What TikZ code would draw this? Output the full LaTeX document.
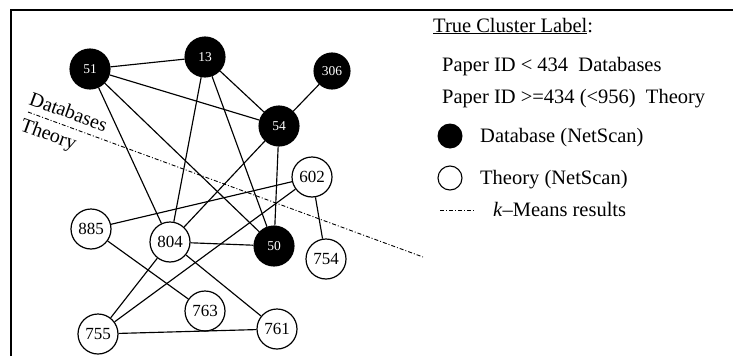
\documentclass[tikz,border=0pt]{standalone}
\usepackage{fontspec}
\setmainfont{Liberation Serif}
\begin{document}
\begin{tikzpicture}[x=1pt,y=-1pt,
  dbnode/.style={circle, fill=black, draw=black, line width=1.1pt, minimum size=40pt, inner sep=0pt,
    text=white, font=\fontsize{13.5}{13.5}\selectfont},
  thnode/.style={circle, fill=white, draw=black, line width=1.2pt, minimum size=40pt, inner sep=0pt,
    font=\fontsize{17}{17}\selectfont},
  edge/.style={line width=1.15pt},
  kmeans/.style={line width=0.9pt, dash pattern=on 4pt off 2pt on 1pt off 2pt},
  legtext/.style={anchor=base west, inner sep=0pt, font=\fontsize{20.5}{20.5}\selectfont},
  sidetext/.style={inner sep=0pt, rotate=-20, font=\fontsize{20}{20}\selectfont}]
\useasboundingbox (0,0) rectangle (733,356);

% frame
\draw[line width=1.4pt] (11,356) -- (11,10) -- (733,10);

% k-means split line and its labels
\coordinate (ka) at (28,112);
\coordinate (kb) at (423,257);
\draw[kmeans] (ka) -- (kb);
\node[sidetext, anchor=base west] (dblab) at (28,104) {Databases};
\node[sidetext, anchor=north west] (thlab) at (24,117) {Theory};

% NetScan database cluster
\node[dbnode] (n51) at (90,69) {51};
\node[dbnode] (n13) at (205,57) {13};
\node[dbnode, minimum size=36pt] (n306) at (332,71) {306};
\node[dbnode] (n54) at (279,126) {54};
\node[dbnode] (n50) at (274,246) {50};

% NetScan theory cluster
\node[thnode] (n602) at (312,177) {602};
\node[thnode] (n885) at (91,229) {885};
\node[thnode] (n804) at (170,242) {804};
\node[thnode] (n754) at (326,259) {754};
\node[thnode] (n763) at (205,311) {763};
\node[thnode] (n761) at (277,329) {761};
\node[thnode] (n755) at (98,334) {755};

% citation links
\draw[edge] (n51) -- (n13);
\draw[edge] (n51) -- (n54);
\draw[edge] (n51) -- (n804);
\draw[edge] (n51) -- (n50);
\draw[edge] (n13) -- (n804);
\draw[edge] (n13) -- (n50);
\draw[edge] (n13) -- (n54);
\draw[edge] (n306) -- (n54);
\draw[edge] (n54) -- (n804);
\draw[edge] (n54) -- (n50);
\draw[edge] (n602) -- (n885);
\draw[edge] (n602) -- (n755);
\draw[edge] (n602) -- (n754);
\draw[edge] (n804) -- (n50);
\draw[edge] (n804) -- (n755);
\draw[edge] (n804) -- (n761);
\draw[edge] (n885) -- (n763);
\draw[edge] (n755) -- (n761);

% legend
\node[legtext] (lt) at (433,32) {\underline{True Cluster Label}:};
\node[legtext] (l1) at (442,71) {Paper ID < 434\ \ Databases};
\node[legtext] (l2) at (442,103) {Paper ID >=434 (<956)\ \ Theory};
\node[circle, fill=black, minimum size=25pt, inner sep=0pt] (ldb) at (450,136) {};
\node[legtext] (ldbt) at (480,142) {Database (NetScan)};
\node[circle, draw=black, line width=1.1pt, minimum size=24pt, inner sep=0pt] (lth) at (450,178) {};
\node[legtext] (ltht) at (480,184) {Theory (NetScan)};
\coordinate (lka) at (440,210);
\coordinate (lkb) at (474,210);
\draw[kmeans] (lka) -- (lkb);
\node[legtext] (lkt) at (493,216) {\textit{k}--Means results};
\end{tikzpicture}
\end{document}
